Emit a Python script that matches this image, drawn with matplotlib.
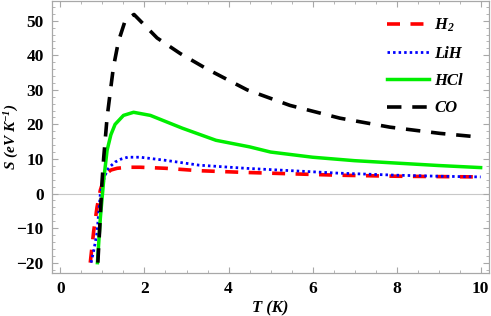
import matplotlib
matplotlib.use('Agg')
import matplotlib.pyplot as plt
from matplotlib.ticker import MultipleLocator

# Данные
T_h2 = [0.71, 0.79, 0.87, 0.95, 1.03, 1.11, 1.2, 1.35, 1.6, 1.9, 2.5, 3.3, 4.4, 5.5, 6.6, 8.0, 9.0, 10.0]
S_h2 = [-20, -11, -4, 1, 4, 5.9, 6.8, 7.3, 7.6, 7.6, 7.3, 6.6, 6.1, 5.7, 5.3, 5.0, 4.9, 4.8]

T_lih = [0.73, 0.8, 0.87, 0.95, 1.03, 1.11, 1.2, 1.3, 1.45, 1.6, 1.9, 2.5, 3.3, 4.4, 5.5, 6.6, 8.0, 9.0, 10.0]
S_lih = [-20, -16, -11.4, 0, 4.0, 6.8, 8.0, 9.1, 10.0, 10.5, 10.5, 9.6, 8.2, 7.3, 6.6, 5.9, 5.3, 5.0, 4.8]

T_hcl = [0.88, 0.95, 1.03, 1.11, 1.2, 1.3, 1.5, 1.74, 2.14, 2.9, 3.7, 4.5, 5.0, 6.0, 7.0, 8.0, 9.0, 10.0]
S_hcl = [-20, -7, 4, 12.5, 17, 20, 22.6, 23.5, 22.6, 18.9, 15.4, 13.5, 12.0, 10.5, 9.5, 8.8, 8.1, 7.5]

T_co = [0.89, 0.93, 0.96, 0.99, 1.03, 1.11, 1.19, 1.26, 1.38, 1.54, 1.75, 2.3, 2.85, 3.49, 4.44, 5.46, 6.65, 7.84, 9.03, 10.0]
S_co = [-20, -11, -3.4, 3.5, 10.5, 22, 29.8, 36.5, 44, 50, 51.8, 45, 40.5, 36, 30, 25.5, 21.8, 19.2, 17.4, 16.3]

plt.rcParams['font.family'] = 'Liberation Serif'
plt.rcParams['font.weight'] = 'bold'
plt.rcParams['mathtext.fontset'] = 'custom'
plt.rcParams['mathtext.rm'] = 'Liberation Serif:italic:bold'
plt.rcParams['mathtext.it'] = 'Liberation Serif:italic:bold'

fig = plt.figure(figsize=(4.91, 3.16), dpi=100)
ax = fig.add_axes([0.106, 0.136, 0.89, 0.862])

ax.axhline(0, color='#c8c8c8', linewidth=0.8, zorder=1)

ax.plot(T_h2, S_h2, color='#ff0000', linewidth=2.6, linestyle=(0, (3.6, 2.9)), label='H$_2$')
ax.plot(T_lih, S_lih, color='#0000ff', linewidth=2.0, linestyle=(0, (0.9, 1.1)), label='LiH')
ax.plot(T_hcl, S_hcl, color='#00ee00', linewidth=2.5, linestyle='-', label='HCl')
ax.plot(T_co, S_co, color='black', linewidth=2.6, linestyle=(0, (4, 3)), label='CO')

ax.set_xlim(-0.2, 10.2)
ax.set_ylim(-23, 55.8)
ax.xaxis.set_major_locator(MultipleLocator(2))
ax.xaxis.set_minor_locator(MultipleLocator(0.5))
ax.yaxis.set_major_locator(MultipleLocator(10))
ax.yaxis.set_minor_locator(MultipleLocator(2))

for sp in ax.spines.values():
    sp.set_color('#a8a8a8')
    sp.set_linewidth(0.9)
ax.tick_params(which='both', direction='in', top=True, right=True, color='#a8a8a8',
               labelsize=12.5, pad=6)
ax.tick_params(which='major', length=4)
ax.tick_params(which='minor', length=2)
for lab in ax.get_xticklabels() + ax.get_yticklabels():
    lab.set_fontweight('bold')

ax.set_xlabel('T (K)', fontsize=12, fontstyle='italic', fontweight='bold', labelpad=2)
ax.set_ylabel('S (eV K$^{-1}$)', fontsize=11, fontstyle='italic', fontweight='bold')
ax.yaxis.set_label_coords(-0.07, 0.5)

leg = ax.legend(loc='upper right', frameon=False, handlelength=2.5, labelspacing=0.68,
                handletextpad=0.35, bbox_to_anchor=(0.975, 0.995),
                prop={'family': 'Liberation Serif', 'style': 'italic', 'weight': 'bold', 'size': 12})

plt.savefig('out.png', dpi=100)
